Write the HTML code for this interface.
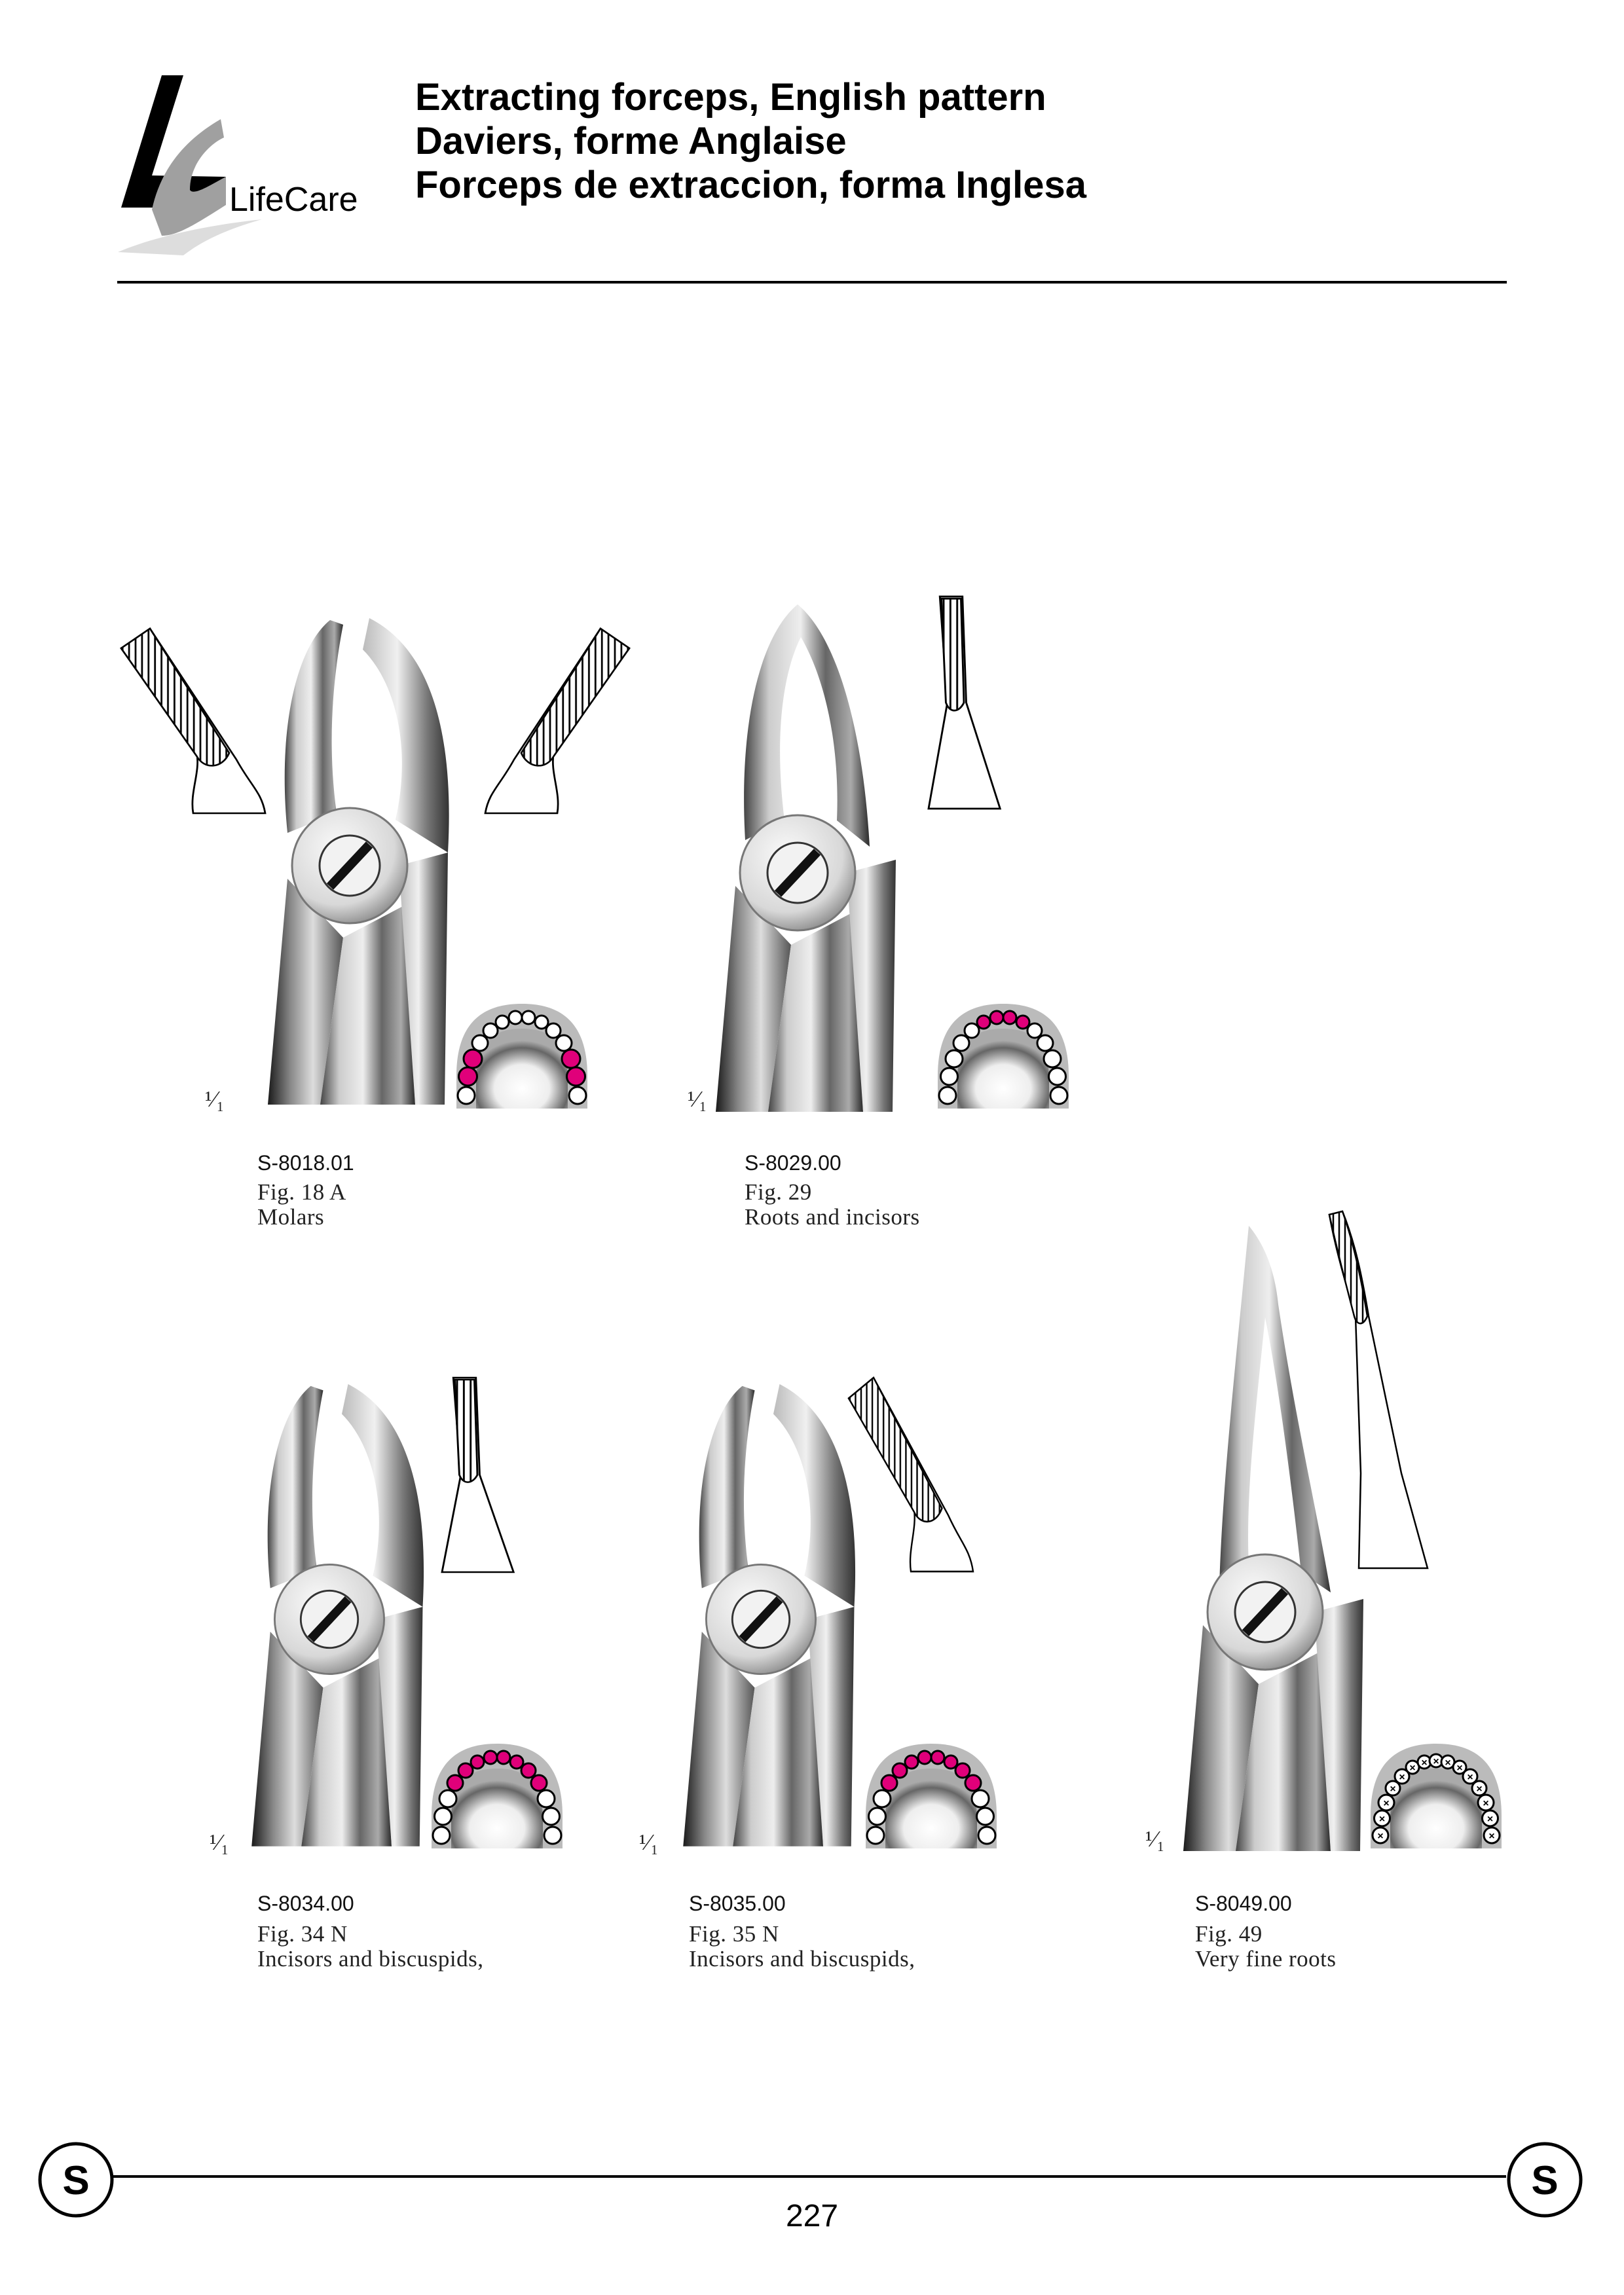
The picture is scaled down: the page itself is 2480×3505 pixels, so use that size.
<!DOCTYPE html>
<html><head><meta charset="utf-8"><style>
html,body{margin:0;padding:0;background:#fff}
svg{display:block}
.t{font-family:"Liberation Sans",sans-serif;font-weight:bold;font-size:58px;fill:#000}
.c{font-family:"Liberation Sans",sans-serif;font-size:32px;fill:#111}
.f{font-family:"Liberation Serif",serif;font-size:35px;fill:#222;letter-spacing:0.5px}
</style></head><body>
<svg width="2480" height="3505" viewBox="0 0 2480 3505" xmlns="http://www.w3.org/2000/svg">
<defs>
<linearGradient id="m1" x1="0" y1="0" x2="1" y2="0">
<stop offset="0" stop-color="#444"/><stop offset=".2" stop-color="#ccc"/><stop offset=".45" stop-color="#eee"/><stop offset=".65" stop-color="#666"/><stop offset=".85" stop-color="#aaa"/><stop offset="1" stop-color="#2a2a2a"/></linearGradient>
<linearGradient id="m2" x1="0" y1="0" x2="1" y2="0">
<stop offset="0" stop-color="#1a1a1a"/><stop offset=".3" stop-color="#888"/><stop offset=".6" stop-color="#ddd"/><stop offset="1" stop-color="#555"/></linearGradient>
<linearGradient id="m3" x1="0" y1="0" x2="1" y2="0">
<stop offset="0" stop-color="#bbb"/><stop offset=".4" stop-color="#f0f0f0"/><stop offset=".75" stop-color="#777"/><stop offset="1" stop-color="#333"/></linearGradient>
<radialGradient id="hg" cx=".4" cy=".35" r=".7"><stop offset="0" stop-color="#fafafa"/><stop offset=".7" stop-color="#d8d8d8"/><stop offset="1" stop-color="#888"/></radialGradient>
<radialGradient id="pal" cx=".5" cy=".75" r=".6"><stop offset="0" stop-color="#fff"/><stop offset=".5" stop-color="#eee"/><stop offset=".85" stop-color="#666"/><stop offset="1" stop-color="#aaa"/></radialGradient>
<pattern id="hatch" width="9" height="9" patternUnits="userSpaceOnUse"><rect width="9" height="9" fill="#fff"/><line x1="2" y1="0" x2="2" y2="9" stroke="#000" stroke-width="2.5"/></pattern>

<g id="forceps">
 <path d="M-95,20 L-125,365 L-45,365 L-10,110 Z" fill="url(#m2)"/>
 <path d="M-10,110 L-45,365 L100,365 L85,60 Z" fill="url(#m1)"/>
 <path d="M75,0 L150,-20 L145,365 L100,365 Z" fill="url(#m3)"/>
 <circle cx="0" cy="0" r="88" fill="url(#hg)" stroke="#777" stroke-width="3"/>
 <circle cx="0" cy="0" r="46" fill="#f2f2f2" stroke="#333" stroke-width="3"/>
 <line x1="-30" y1="32" x2="30" y2="-32" stroke="#111" stroke-width="14"/>
</g>
<g id="jawsWide">
 <path d="M-95,-50 C-110,-200 -85,-330 -30,-375 L-10,-368 C-25,-290 -35,-190 -20,-80 Z" fill="url(#m1)"/>
 <path d="M30,-378 C125,-330 160,-200 150,-20 L70,-70 C95,-180 70,-280 20,-330 Z" fill="url(#m3)"/>
</g>
<g id="jawsNarrow">
 <path d="M-80,-50 C-90,-220 -60,-360 0,-410 C60,-360 100,-220 110,-40 L60,-80 C65,-200 40,-300 5,-360 C-25,-300 -35,-200 -20,-80 Z" fill="url(#m1)"/>
</g>

<g id="arch">
 <path d="M0,160 L0,110 C0,20 50,0 100,0 C150,0 200,20 200,110 L200,160 Z" fill="#bbb"/>
 <path d="M30,160 L30,115 C30,55 60,38 100,38 C140,38 170,55 170,115 L170,160 Z" fill="url(#pal)"/>
</g>
<g id="beakV">
 <path d="M15,0 L45,0 L50,150 L95,300 L0,300 L25,150 Z" fill="#fff" stroke="#000" stroke-width="2.5"/>
 <path d="M17,3 L43,3 L47,150 C40,165 28,165 23,150 Z" fill="url(#hatch)" stroke="#000" stroke-width="2.5"/>
</g>
<g id="beakA">
 <path d="M0,30 L40,0 L160,200 C180,240 195,250 200,282 L100,282 C95,250 110,220 105,190 Z" fill="#fff" stroke="#000" stroke-width="2.5"/>
 <path d="M0,30 L40,0 L150,190 C140,215 115,215 105,195 Z" fill="url(#hatch)" stroke="#000" stroke-width="2.5"/>
</g>
</defs>

<!-- logo -->
<polygon points="247,115 280,115 232,268 345,270 323,317 185,317" fill="#000"/>
<path d="M337,182 C280,215 245,260 232,320 L247,360 C270,360 295,345 345,313 L345,270 C325,280 296,300 290,290 C290,250 320,220 342,210 Z" fill="#a0a0a0"/>
<path d="M180,385 C250,355 350,340 400,335 C330,355 300,375 280,390 Z" fill="#ddd"/>
<text x="350" y="322" style="font-family:'Liberation Sans',sans-serif;font-size:52px;font-weight:300" fill="#000">LifeCare</text>

<text class="t" x="634" y="168">Extracting forceps, English pattern</text>
<text class="t" x="634" y="235">Daviers, forme Anglaise</text>
<text class="t" x="634" y="302">Forceps de extraccion, forma Inglesa</text>
<rect x="179" y="429" width="2122" height="4" fill="#000"/>

<!-- F1 -->
<use href="#beakA" transform="translate(185,960) scale(1.1,1)"/>
<use href="#beakA" transform="translate(961,960) scale(-1.1,1)"/>
<g transform="translate(534,1322)"><use href="#jawsWide"/><use href="#forceps"/></g>
<g transform="translate(697,1533)"><use href="#arch"/>
<g fill="#fff" stroke="#000" stroke-width="3">
<circle cx="15" cy="140" r="13"/><circle cx="17.5" cy="111" r="14" fill="#e0007a"/><circle cx="25" cy="84" r="14" fill="#e0007a"/><circle cx="36" cy="60" r="12"/><circle cx="52" cy="41" r="11"/><circle cx="70" cy="28" r="10"/><circle cx="90" cy="21" r="10"/><circle cx="110" cy="21" r="10"/><circle cx="130" cy="28" r="10"/><circle cx="148" cy="41" r="11"/><circle cx="164" cy="60" r="12"/><circle cx="175" cy="84" r="14" fill="#e0007a"/><circle cx="182.5" cy="111" r="14" fill="#e0007a"/><circle cx="185" cy="140" r="13"/></g></g>
<text class="f" x="313" y="1690" font-size="26">¹⁄₁</text>
<text class="c" x="393" y="1787">S-8018.01</text>
<text class="f" x="393" y="1832">Fig. 18 A</text>
<text class="f" x="393" y="1870">Molars</text>

<!-- F2 -->
<use href="#beakV" transform="translate(1418,911) scale(1.15,1.08)"/>
<g transform="translate(1218,1333)"><use href="#jawsNarrow"/><use href="#forceps"/></g>
<g transform="translate(1432,1533)"><use href="#arch"/>
<g fill="#fff" stroke="#000" stroke-width="3">
<circle cx="15" cy="140" r="13"/><circle cx="17.5" cy="111" r="13"/><circle cx="25" cy="84" r="13"/><circle cx="36" cy="60" r="12"/><circle cx="52" cy="41" r="11"/><circle cx="70" cy="28" r="10" fill="#e0007a"/><circle cx="90" cy="21" r="10" fill="#e0007a"/><circle cx="110" cy="21" r="10" fill="#e0007a"/><circle cx="130" cy="28" r="10" fill="#e0007a"/><circle cx="148" cy="41" r="11"/><circle cx="164" cy="60" r="12"/><circle cx="175" cy="84" r="13"/><circle cx="182.5" cy="111" r="13"/><circle cx="185" cy="140" r="13"/></g></g>
<text class="f" x="1050" y="1690" font-size="26">¹⁄₁</text>
<text class="c" x="1137" y="1787">S-8029.00</text>
<text class="f" x="1137" y="1832">Fig. 29</text>
<text class="f" x="1137" y="1870">Roots and incisors</text>

<!-- F3 -->
<use href="#beakV" transform="translate(675,2104) scale(1.15,0.99)"/>
<g transform="translate(503,2473) scale(0.95)"><use href="#jawsWide"/><use href="#forceps"/></g>
<g transform="translate(659,2663)"><use href="#arch"/>
<g fill="#fff" stroke="#000" stroke-width="3">
<circle cx="15" cy="140" r="13"/><circle cx="17.5" cy="111" r="13"/><circle cx="25" cy="84" r="13"/><circle cx="36" cy="60" r="12" fill="#e0007a"/><circle cx="52" cy="41" r="11" fill="#e0007a"/><circle cx="70" cy="28" r="10" fill="#e0007a"/><circle cx="90" cy="21" r="10" fill="#e0007a"/><circle cx="110" cy="21" r="10" fill="#e0007a"/><circle cx="130" cy="28" r="10" fill="#e0007a"/><circle cx="148" cy="41" r="11" fill="#e0007a"/><circle cx="164" cy="60" r="12" fill="#e0007a"/><circle cx="175" cy="84" r="13"/><circle cx="182.5" cy="111" r="13"/><circle cx="185" cy="140" r="13"/></g></g>
<text class="f" x="320" y="2825" font-size="26">¹⁄₁</text>
<text class="c" x="393" y="2918">S-8034.00</text>
<text class="f" x="393" y="2965">Fig. 34 N</text>
<text class="f" x="393" y="3003">Incisors and biscuspids,</text>

<!-- F4 -->
<use href="#beakA" transform="translate(1296,2104) scale(0.95,1.05)"/>
<g transform="translate(1162,2473) scale(0.95)"><use href="#jawsWide"/><use href="#forceps"/></g>
<g transform="translate(1322,2663)"><use href="#arch"/>
<g fill="#fff" stroke="#000" stroke-width="3">
<circle cx="15" cy="140" r="13"/><circle cx="17.5" cy="111" r="13"/><circle cx="25" cy="84" r="13"/><circle cx="36" cy="60" r="12" fill="#e0007a"/><circle cx="52" cy="41" r="11" fill="#e0007a"/><circle cx="70" cy="28" r="10" fill="#e0007a"/><circle cx="90" cy="21" r="10" fill="#e0007a"/><circle cx="110" cy="21" r="10" fill="#e0007a"/><circle cx="130" cy="28" r="10" fill="#e0007a"/><circle cx="148" cy="41" r="11" fill="#e0007a"/><circle cx="164" cy="60" r="12" fill="#e0007a"/><circle cx="175" cy="84" r="13"/><circle cx="182.5" cy="111" r="13"/><circle cx="185" cy="140" r="13"/></g></g>
<text class="f" x="976" y="2825" font-size="26">¹⁄₁</text>
<text class="c" x="1052" y="2918">S-8035.00</text>
<text class="f" x="1052" y="2965">Fig. 35 N</text>
<text class="f" x="1052" y="3003">Incisors and biscuspids,</text>

<!-- F5 -->
<path d="M2030,1855 L2050,1850 C2070,1900 2080,1950 2090,2010 L2140,2250 L2180,2395 L2075,2395 L2078,2250 L2070,2010 C2055,1960 2040,1910 2030,1855 Z" fill="#fff" stroke="#000" stroke-width="2.5"/>
<path d="M2030,1855 L2050,1850 C2068,1900 2080,1960 2088,2010 C2082,2025 2072,2025 2068,2010 C2055,1960 2042,1910 2030,1855 Z" fill="url(#hatch)" stroke="#000" stroke-width="2.5"/>
<g transform="translate(1932,2462)">
 <path d="M-70,-40 C-65,-200 -45,-380 -25,-590 C0,-560 15,-520 20,-470 C45,-300 80,-150 100,-30 L55,-60 C40,-200 20,-350 0,-450 C-15,-300 -30,-180 -25,-70 Z" fill="url(#m1)"/>
 <use href="#forceps"/>
</g>
<g transform="translate(2093,2663)"><use href="#arch"/>
<g fill="#fff" stroke="#000" stroke-width="3">
<circle cx="15" cy="140" r="12"/><circle cx="17.5" cy="114" r="12"/><circle cx="24" cy="90" r="12"/><circle cx="34" cy="68" r="11"/><circle cx="48" cy="50" r="11"/><circle cx="64" cy="36" r="10"/><circle cx="82" cy="28" r="10"/><circle cx="100" cy="26" r="10"/><circle cx="118" cy="28" r="10"/><circle cx="136" cy="36" r="10"/><circle cx="152" cy="50" r="11"/><circle cx="166" cy="68" r="11"/><circle cx="176" cy="90" r="12"/><circle cx="182.5" cy="114" r="12"/><circle cx="185" cy="140" r="12"/></g>
<g font-family="Liberation Sans,sans-serif" font-size="16" font-weight="bold" text-anchor="middle" fill="#000">
<text x="15" y="146">×</text><text x="17.5" y="120">×</text><text x="24" y="96">×</text><text x="34" y="74">×</text><text x="48" y="56">×</text><text x="64" y="42">×</text><text x="82" y="34">×</text><text x="100" y="32">×</text><text x="118" y="34">×</text><text x="136" y="42">×</text><text x="152" y="56">×</text><text x="166" y="74">×</text><text x="176" y="96">×</text><text x="182.5" y="120">×</text><text x="185" y="146">×</text></g></g>
<text class="f" x="1749" y="2820" font-size="26">¹⁄₁</text>
<text class="c" x="1825" y="2918">S-8049.00</text>
<text class="f" x="1825" y="2965">Fig. 49</text>
<text class="f" x="1825" y="3003">Very fine roots</text>

<!-- footer -->
<rect x="172" y="3322" width="2128" height="4" fill="#000"/>
<circle cx="116" cy="3329" r="55" fill="#fff" stroke="#000" stroke-width="5"/>
<circle cx="2359" cy="3329" r="55" fill="#fff" stroke="#000" stroke-width="5"/>
<text x="116" y="3351" text-anchor="middle" style="font-family:'Liberation Sans',sans-serif;font-weight:bold;font-size:62px">S</text>
<text x="2359" y="3351" text-anchor="middle" style="font-family:'Liberation Sans',sans-serif;font-weight:bold;font-size:62px">S</text>
<text x="1240" y="3400" text-anchor="middle" style="font-family:'Liberation Sans',sans-serif;font-size:48px">227</text>
</svg>
</body></html>
